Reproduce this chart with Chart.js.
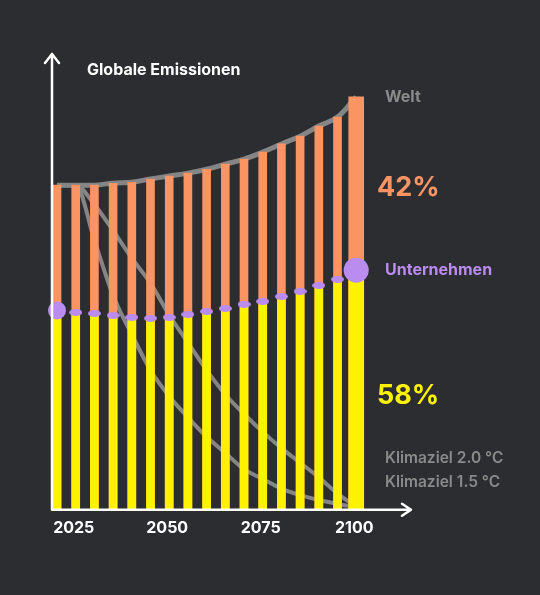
<!DOCTYPE html>
<html>
<head>
<meta charset="utf-8">
<script src="https://cdn.jsdelivr.net/npm/chart.js@4.4.1/dist/chart.umd.min.js"></script>
<style>
  html, body { margin: 0; padding: 0; background: #2c2d30; }
  #wrap { width: 540px; height: 595px; }
</style>
</head>
<body>
<div id="wrap"><canvas id="c" width="540" height="595"></canvas></div>
<script>
// ---- data (index: global emissions 2020 = 100) ----
const years = [2020, 2025, 2030, 2035, 2040, 2045, 2050, 2055, 2060, 2065, 2070, 2075, 2080, 2085, 2090, 2095, 2100];
const world = [100, 100, 100, 100.6, 100.9, 101.9, 102.8, 103.7, 104.9, 106.5, 108.0, 110.2, 112.7, 115.1, 118.2, 121.0, 127.2];
const companies = [61.4, 60.8, 60.5, 59.9, 59.3, 59.0, 59.3, 60.2, 61.1, 62.0, 63.3, 64.2, 65.7, 67.3, 69.1, 71.0, 73.8];
const target20 = [100, 100, 94, 86, 77.5, 69.8, 60, 51.5, 43, 35.5, 29.5, 24, 19, 14.5, 10, 5, 1];
const target15 = [100, 100, 83, 66, 54, 43, 35, 28.5, 22.5, 17.5, 12.5, 9.5, 6.5, 4.5, 3, 1.8, 0.8];
const tickYears = [2025, 2050, 2075, 2100];
const labels = {
  title: 'Globale Emissionen',
  world: 'Welt',
  companies: 'Unternehmen',
  t20: 'Klimaziel 2.0 °C',
  t15: 'Klimaziel 1.5 °C'
};

const C = {
  bg: '#2c2d30', orange: '#fa9563', yellow: '#fff200', purple: '#bb8cf0',
  grey: '#8a8a8a', greyLine: '#858585', white: '#ffffff'
};
const FONT = 'Inter, "Noto Sans", sans-serif';

const last = years.length - 1;
const pts = arr => years.map((x, i) => ({ x, y: arr[i] }));
const ptsMain = arr => years.slice(0, last).map((x, i) => ({ x, y: arr[i] }));
const ptsLast = arr => [{ x: years[last], y: arr[last] }];

// ellipse point image for the small company markers
const ell = document.createElement('canvas');
ell.width = 13; ell.height = 7;
(function () {
  const g = ell.getContext('2d');
  g.fillStyle = C.purple;
  g.beginPath();
  g.ellipse(6.5, 3.5, 6.5, 3.5, 0, 0, Math.PI * 2);
  g.fill();
})();

const overlay = {
  id: 'overlay',
  afterDraw(chart) {
    const { ctx, chartArea: a, scales } = chart;
    const ys = scales.y;
    ctx.save();
    // axes with arrows
    ctx.strokeStyle = C.white;
    ctx.lineWidth = 2.5;
    ctx.lineCap = 'round';
    ctx.lineJoin = 'round';
    ctx.beginPath();
    ctx.moveTo(a.left, a.bottom);
    ctx.lineTo(a.left, a.top);
    ctx.moveTo(a.left - 7, a.top + 9);
    ctx.lineTo(a.left, a.top);
    ctx.lineTo(a.left + 7, a.top + 9);
    ctx.moveTo(a.left, a.bottom);
    ctx.lineTo(a.right, a.bottom);
    ctx.moveTo(a.right - 9, a.bottom - 6);
    ctx.lineTo(a.right, a.bottom);
    ctx.lineTo(a.right - 9, a.bottom + 6);
    ctx.stroke();

    ctx.textBaseline = 'middle';
    ctx.textAlign = 'left';
    // title
    ctx.fillStyle = C.white;
    ctx.font = 'bold 16px ' + FONT;
    ctx.fillText(labels.title, a.left + 35, a.top + 16);

    const yW = ys.getPixelForValue(world[last]);
    const yC = ys.getPixelForValue(companies[last]);
    const yB = ys.getPixelForValue(0);
    const share = Math.round(companies[last] / world[last] * 100);

    ctx.fillStyle = C.grey;
    ctx.font = 'bold 16px ' + FONT;
    ctx.fillText(labels.world, 385, yW);

    ctx.fillStyle = C.orange;
    ctx.font = 'bold 27px ' + FONT;
    ctx.fillText((100 - share) + '%', 377, (yW + yC) / 2 + 4);

    ctx.fillStyle = C.purple;
    ctx.font = 'bold 16px ' + FONT;
    ctx.fillText(labels.companies, 385, yC);

    ctx.fillStyle = C.yellow;
    ctx.font = 'bold 27px ' + FONT;
    ctx.fillText(share + '%', 377, (yC + yB) / 2 + 5.5);

    ctx.fillStyle = C.grey;
    ctx.font = '600 15.5px ' + FONT;
    ctx.fillText(labels.t20, 385, yB - 51);
    ctx.fillText(labels.t15, 385, yB - 27.5);
    ctx.restore();
  }
};

new Chart(document.getElementById('c'), {
  data: {
    datasets: [
      {
        type: 'line', label: 'Unternehmen', data: pts(companies), order: 0,
        showLine: false, clip: false,
        pointStyle: ctx => (ctx.dataIndex === 0 || ctx.dataIndex === last) ? 'circle' : ell,
        pointRadius: ctx => ctx.dataIndex === 0 ? 9 : (ctx.dataIndex === last ? 12.5 : 5),
        pointBackgroundColor: C.purple, pointBorderWidth: 0
      },
      { type: 'bar', label: 'Unternehmen', data: ptsMain(companies), order: 1, backgroundColor: C.yellow, barThickness: 8, grouped: false },
      { type: 'bar', label: 'Unternehmen 2100', data: ptsLast(companies), order: 1, backgroundColor: C.yellow, barThickness: 15, grouped: false },
      { type: 'bar', label: 'Welt', data: ptsMain(world), order: 2, backgroundColor: C.orange, barThickness: 8, grouped: false },
      { type: 'bar', label: 'Welt 2100', data: ptsLast(world), order: 2, backgroundColor: C.orange, barThickness: 15, grouped: false },
      { type: 'line', label: 'Welt', data: pts(world), order: 3, borderColor: C.greyLine, borderWidth: 5, tension: 0.4, pointRadius: 0, fill: false },
      { type: 'line', label: 'Klimaziel 2.0 °C', data: pts(target20), order: 3, borderColor: C.greyLine, borderWidth: 4, cubicInterpolationMode: 'monotone', pointRadius: 0, fill: false },
      { type: 'line', label: 'Klimaziel 1.5 °C', data: pts(target15), order: 3, borderColor: C.greyLine, borderWidth: 4, cubicInterpolationMode: 'monotone', pointRadius: 0, fill: false }
    ]
  },
  options: {
    responsive: false,
    animation: false,
    layout: { padding: { left: 52, right: 129, top: 54, bottom: 48 } },
    plugins: { legend: { display: false }, tooltip: { enabled: false } },
    scales: {
      x: {
        type: 'linear', min: 2018.66, max: 2114.65, offset: false,
        grid: { display: false, drawTicks: false, offset: false },
        border: { display: false },
        afterBuildTicks: s => { s.ticks = tickYears.map(v => ({ value: v })); },
        ticks: { color: C.white, font: { family: FONT, size: 16, weight: 'bold' }, padding: 9, labelOffset: -2, maxRotation: 0, autoSkip: false, callback: v => String(v) }
      },
      y: { display: false, min: 0, max: 140.4 }
    }
  },
  plugins: [overlay]
});
</script>
</body>
</html>
